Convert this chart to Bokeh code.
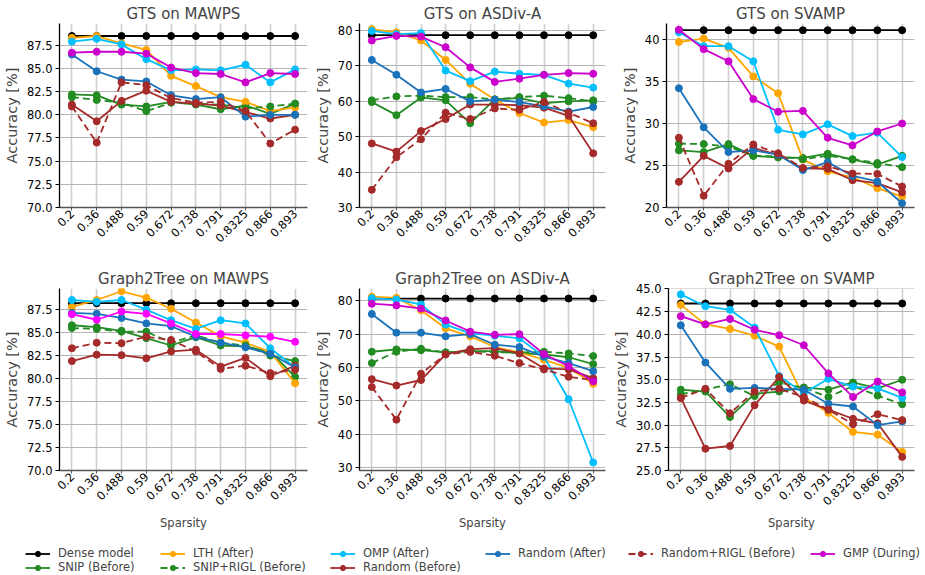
from math import pi
from bokeh.plotting import figure
from bokeh.layouts import column, row
from bokeh.models import (FactorRange, Range1d, FixedTicker, PrintfTickFormatter,
                          Legend, LegendItem)
from bokeh.embed import file_html
from bokeh.resources import INLINE

FONT = "DejaVu Sans"

sparsity = ["0.2", "0.36", "0.488", "0.59", "0.672", "0.738", "0.791", "0.8325", "0.866", "0.893"]

methods = ["Dense model", "SNIP (Before)", "LTH (After)", "SNIP+RIGL (Before)", "OMP (After)",
           "Random (Before)", "Random (After)", "Random+RIGL (Before)", "GMP (During)"]

# ---------------- data ----------------
gts_mawps = {
    "Dense model": [88.5, 88.5, 88.5, 88.5, 88.5, 88.5, 88.5, 88.5, 88.5, 88.5],
    "SNIP (Before)": [82.2, 82.1, 81.1, 80.9, 81.4, 81.1, 80.6, 81.0, 80.1, 81.2],
    "LTH (After)": [88.3, 88.5, 87.7, 87.0, 84.2, 83.1, 81.9, 81.4, 80.4, 80.8],
    "SNIP+RIGL (Before)": [81.9, 81.6, 81.3, 80.4, 81.3, 81.2, 81.1, 80.7, 80.9, 81.2],
    "OMP (After)": [87.9, 88.2, 87.6, 86.0, 84.8, 84.9, 84.8, 85.4, 83.5, 84.9],
    "Random (Before)": [81.1, 79.3, 81.5, 82.6, 81.4, 81.2, 81.0, 80.3, 79.6, 80.0],
    "Random (After)": [86.5, 84.7, 83.8, 83.6, 82.1, 81.7, 81.9, 79.8, 80.0, 80.0],
    "Random+RIGL (Before)": [80.9, 77.0, 83.5, 83.2, 81.8, 81.3, 81.4, 80.4, 76.9, 78.4],
    "GMP (During)": [86.7, 86.8, 86.8, 86.6, 85.1, 84.5, 84.4, 83.5, 84.5, 84.4],
}

gts_asdiv = {
    "Dense model": [78.7, 78.7, 78.7, 78.7, 78.7, 78.7, 78.7, 78.7, 78.7, 78.7],
    "SNIP (Before)": [59.8, 56.1, 61.1, 60.3, 53.8, 60.6, 60.9, 59.5, 60.0, 60.3],
    "LTH (After)": [80.4, 79.5, 77.2, 71.7, 65.0, 60.5, 56.7, 54.0, 54.7, 52.7],
    "SNIP+RIGL (Before)": [60.3, 61.4, 61.6, 61.2, 61.2, 60.5, 61.2, 61.6, 60.9, 60.0],
    "OMP (After)": [79.9, 79.0, 79.3, 68.7, 65.7, 68.4, 67.8, 67.5, 65.0, 63.9],
    "Random (Before)": [48.1, 45.8, 51.6, 55.0, 59.1, 59.1, 58.9, 58.2, 55.9, 45.3],
    "Random (After)": [71.7, 67.5, 62.5, 63.5, 60.0, 60.5, 59.8, 58.6, 57.1, 58.4],
    "Random+RIGL (Before)": [35.0, 44.2, 49.3, 56.8, 55.0, 58.0, 57.6, 59.8, 56.8, 53.8],
    "GMP (During)": [77.2, 78.5, 78.3, 75.3, 69.6, 65.5, 66.4, 67.5, 68.0, 67.8],
}

gts_svamp = {
    "Dense model": [41.1, 41.1, 41.1, 41.1, 41.1, 41.1, 41.1, 41.1, 41.1, 41.1],
    "SNIP (Before)": [26.8, 26.6, 27.55, 26.15, 25.95, 25.9, 26.4, 25.7, 25.1, 26.15],
    "LTH (After)": [39.7, 40.1, 39.0, 35.6, 33.6, 25.7, 24.3, 23.6, 22.3, 21.3],
    "SNIP+RIGL (Before)": [27.6, 27.55, 27.25, 26.15, 26.1, 25.75, 26.15, 25.75, 25.3, 24.8],
    "OMP (After)": [40.85, 39.2, 39.2, 37.4, 29.25, 28.7, 29.9, 28.5, 28.9, 26.0],
    "Random (Before)": [23.05, 26.15, 24.65, 27.1, 26.25, 24.65, 24.6, 23.25, 22.9, 21.8],
    "Random (After)": [34.2, 29.55, 26.6, 26.8, 26.3, 24.45, 25.4, 23.75, 23.1, 20.5],
    "Random+RIGL (Before)": [28.3, 21.4, 25.2, 27.5, 26.45, 24.7, 24.9, 24.05, 24.0, 22.5],
    "GMP (During)": [41.15, 38.85, 37.4, 32.9, 31.4, 31.5, 28.3, 27.4, 29.05, 30.0],
}

g2t_mawps = {
    "Dense model": [88.2, 88.2, 88.2, 88.2, 88.2, 88.2, 88.2, 88.2, 88.2, 88.2],
    "SNIP (Before)": [85.8, 85.6, 85.2, 84.4, 83.6, 84.5, 83.6, 83.5, 82.9, 80.2],
    "LTH (After)": [87.8, 88.55, 89.5, 88.8, 87.6, 86.1, 84.6, 83.9, 82.9, 79.5],
    "SNIP+RIGL (Before)": [85.5, 85.4, 85.1, 85.1, 83.9, 84.7, 83.9, 83.6, 82.5, 81.9],
    "OMP (After)": [88.55, 88.35, 88.55, 87.5, 86.35, 85.4, 86.35, 86.0, 83.3, 81.2],
    "Random (Before)": [81.9, 82.6, 82.55, 82.2, 82.95, 83.15, 81.3, 82.25, 80.25, 81.4],
    "Random (After)": [87.15, 87.05, 86.6, 86.0, 85.7, 84.55, 83.9, 83.4, 82.7, 81.2],
    "Random+RIGL (Before)": [83.3, 83.9, 83.85, 84.55, 84.2, 82.95, 81.05, 81.4, 80.6, 80.95],
    "GMP (During)": [87.0, 86.4, 87.3, 87.05, 86.0, 84.85, 84.85, 84.7, 84.55, 84.0],
}

g2t_asdiv = {
    "Dense model": [80.6, 80.6, 80.6, 80.6, 80.6, 80.6, 80.6, 80.6, 80.6, 80.6],
    "SNIP (Before)": [64.7, 65.4, 65.15, 64.5, 64.9, 64.9, 64.2, 63.9, 63.05, 61.0],
    "LTH (After)": [81.15, 80.8, 77.1, 71.7, 69.3, 66.1, 64.5, 62.3, 59.9, 55.1],
    "SNIP+RIGL (Before)": [61.3, 64.7, 65.6, 64.5, 64.9, 64.5, 64.5, 64.7, 64.2, 63.4],
    "OMP (After)": [80.7, 80.3, 78.85, 72.8, 70.2, 69.5, 68.7, 63.2, 50.5, 31.6],
    "Random (Before)": [56.5, 54.6, 56.25, 63.9, 65.45, 65.8, 64.2, 59.7, 59.4, 56.8],
    "Random (After)": [76.0, 70.4, 70.4, 69.3, 69.95, 66.8, 66.1, 63.25, 61.3, 58.9],
    "Random+RIGL (Before)": [54.15, 44.4, 58.15, 63.9, 64.65, 63.5, 61.3, 59.4, 57.2, 56.25],
    "GMP (During)": [79.05, 78.55, 77.6, 74.05, 70.7, 69.75, 69.95, 64.0, 60.35, 55.85],
}

g2t_svamp = {
    "Dense model": [43.4, 43.4, 43.4, 43.4, 43.4, 43.4, 43.4, 43.4, 43.4, 43.4],
    "SNIP (Before)": [33.9, 33.7, 30.9, 33.45, 33.7, 34.15, 33.9, 34.7, 34.05, 35.0],
    "LTH (After)": [43.25, 41.1, 40.6, 39.85, 38.65, 33.05, 31.35, 29.25, 28.95, 27.05],
    "SNIP+RIGL (Before)": [33.4, 33.9, 34.5, 33.2, 34.7, 34.1, 33.1, 34.3, 33.25, 32.3],
    "OMP (After)": [44.4, 43.1, 42.7, 40.75, 35.4, 33.5, 35.1, 34.25, 34.05, 33.0],
    "Random (Before)": [33.0, 27.4, 27.7, 32.2, 35.3, 32.7, 31.7, 30.7, 30.2, 26.5],
    "Random (After)": [41.0, 36.9, 34.0, 34.1, 34.0, 33.9, 32.35, 32.05, 30.0, 30.4],
    "Random+RIGL (Before)": [33.0, 34.0, 31.3, 33.7, 34.0, 33.1, 31.7, 30.1, 31.2, 30.55],
    "GMP (During)": [42.0, 41.1, 41.7, 40.5, 39.9, 38.8, 35.7, 33.1, 34.8, 33.6],
}

ticks_mawps = [70.0, 72.5, 75.0, 77.5, 80.0, 82.5, 85.0, 87.5]
ticks_asdiv = [30, 40, 50, 60, 70, 80]
ticks_gts_svamp = [20, 25, 30, 35, 40]
ticks_g2t_svamp = [25.0, 27.5, 30.0, 32.5, 35.0, 37.5, 40.0, 42.5, 45.0]

# ---------------- styles ----------------
colors = {
    "Dense model": "#000000",
    "SNIP (Before)": "#228B22",
    "LTH (After)": "#FFA500",
    "SNIP+RIGL (Before)": "#228B22",
    "OMP (After)": "#00BFFF",
    "Random (Before)": "#A52A2A",
    "Random (After)": "#1a72bb",
    "Random+RIGL (Before)": "#A52A2A",
    "GMP (During)": "#cc00cc",
}
dashes = {m: "solid" for m in methods}
dashes["SNIP+RIGL (Before)"] = "7 4"
dashes["Random+RIGL (Before)"] = "7 4"


def make_panel(title, data, yr, ticks, fmt, width, height, left, right, top, bottom,
               xlabel=None, magenta="#cc00cc"):
    p = figure(x_range=FactorRange(*sparsity), y_range=Range1d(*yr),
               width=width, height=height, output_backend="svg", toolbar_location=None,
               min_border_left=left, min_border_right=right,
               min_border_top=top, min_border_bottom=bottom)
    p.outline_line_color = None
    p.background_fill_color = "white"
    p.title.text = title
    p.title.text_font = FONT
    p.title.text_font_size = "15px"
    p.title.text_font_style = "normal"
    p.title.align = "center"
    p.title.standoff = 2
    p.title.offset = 0

    p.xgrid.grid_line_color = "#cfcfcf"
    p.xgrid.grid_line_width = 1.6
    p.ygrid.grid_line_color = "#b5b5b5"
    p.ygrid.grid_line_width = 1

    p.yaxis.ticker = FixedTicker(ticks=ticks)
    p.yaxis.formatter = PrintfTickFormatter(format=fmt)
    p.yaxis.axis_label = "Accuracy [%]"
    p.yaxis.axis_label_text_font = FONT
    p.yaxis.axis_label_text_font_size = "14.5px"
    p.yaxis.axis_label_text_font_style = "normal"
    p.yaxis.axis_label_standoff = 4
    p.yaxis.major_label_standoff = 3
    p.yaxis.axis_line_color = "black"
    p.yaxis.axis_line_width = 1.3
    p.yaxis.minor_tick_line_color = None
    p.yaxis.major_tick_out = 4
    p.yaxis.major_tick_in = 0

    p.xaxis.axis_line_color = "#555555"
    p.xaxis.axis_line_width = 1.3
    p.xaxis.major_tick_out = 3
    p.xaxis.major_tick_in = 0
    p.xaxis.major_tick_line_color = "#555555"
    p.xaxis.major_label_orientation = pi / 4
    p.xaxis.major_label_standoff = 1
    for ax in (p.xaxis, p.yaxis):
        ax.major_label_text_font = FONT
        ax.major_label_text_font_size = "11.5px"
        ax.major_label_text_color = "black"
    if xlabel:
        p.xaxis.axis_label = xlabel
        p.xaxis.axis_label_text_font = FONT
        p.xaxis.axis_label_text_font_size = "11.5px"
        p.xaxis.axis_label_text_font_style = "normal"
        p.xaxis.axis_label_standoff = 4

    for m in methods:
        c = magenta if m == "GMP (During)" else colors[m]
        p.line(sparsity, data[m], line_color=c, line_width=1.8, line_dash=dashes[m])
        p.scatter(sparsity, data[m], size=7, fill_color=c, line_color=c)
    return p


f1 = make_panel("GTS on MAWPS", gts_mawps, (70, 89.85), ticks_mawps, "%.1f",
                311, 266, 57, 4, 23, 59)
f2 = make_panel("GTS on ASDiv-A", gts_asdiv, (30, 82), ticks_asdiv, "%d",
                298, 266, 46, 4, 23, 59)
f3 = make_panel("GTS on SVAMP", gts_svamp, (20, 41.9), ticks_gts_svamp, "%d",
                315, 266, 57, 10, 23, 59)
f4 = make_panel("Graph2Tree on MAWPS", g2t_mawps, (70, 89.8), ticks_mawps, "%.1f",
                311, 278, 57, 4, 20, 74, "Sparsity", magenta="#ff00ff")
f5 = make_panel("Graph2Tree on ASDiv-A", g2t_asdiv, (29.2, 83.6), ticks_asdiv, "%d",
                298, 278, 46, 4, 20, 74, "Sparsity")
f6 = make_panel("Graph2Tree on SVAMP", g2t_svamp, (25, 45.05), ticks_g2t_svamp, "%.1f",
                315, 278, 57, 10, 20, 74, "Sparsity")

# ---------------- legend strip ----------------
lf = figure(width=924, height=30, x_range=Range1d(0, 1), y_range=Range1d(0, 1),
            x_axis_location=None, y_axis_location=None, output_backend="svg",
            toolbar_location=None, min_border=0)
lf.outline_line_color = None
lf.grid.visible = False

leg_pos = {
    "Dense model": (25, 14), "SNIP (Before)": (25, 0),
    "LTH (After)": (160, 14), "SNIP+RIGL (Before)": (160, 0),
    "OMP (After)": (330, 14), "Random (Before)": (330, 0),
    "Random (After)": (485, 14), "Random+RIGL (Before)": (628, 14),
    "GMP (During)": (810, 14),
}
nan = float("nan")
for m in methods:
    c = colors[m]
    lr = lf.line(x=[nan], y=[nan], line_color=c, line_width=1.8, line_dash=dashes[m])
    sr = lf.scatter(x=[nan], y=[nan], size=7, fill_color=c, line_color=c)
    leg = Legend(items=[LegendItem(label=m, renderers=[lr, sr])], location=leg_pos[m],
                 orientation="vertical", padding=0, margin=0, spacing=0,
                 border_line_alpha=0, background_fill_alpha=0,
                 label_text_font=FONT, label_text_font_size="11.5px",
                 glyph_width=25, glyph_height=13, label_height=13, label_standoff=8)
    lf.add_layout(leg)

layout = column(row(f1, f2, f3), row(f4, f5, f6), lf)
open("out.html", "w").write(file_html(layout, INLINE))
